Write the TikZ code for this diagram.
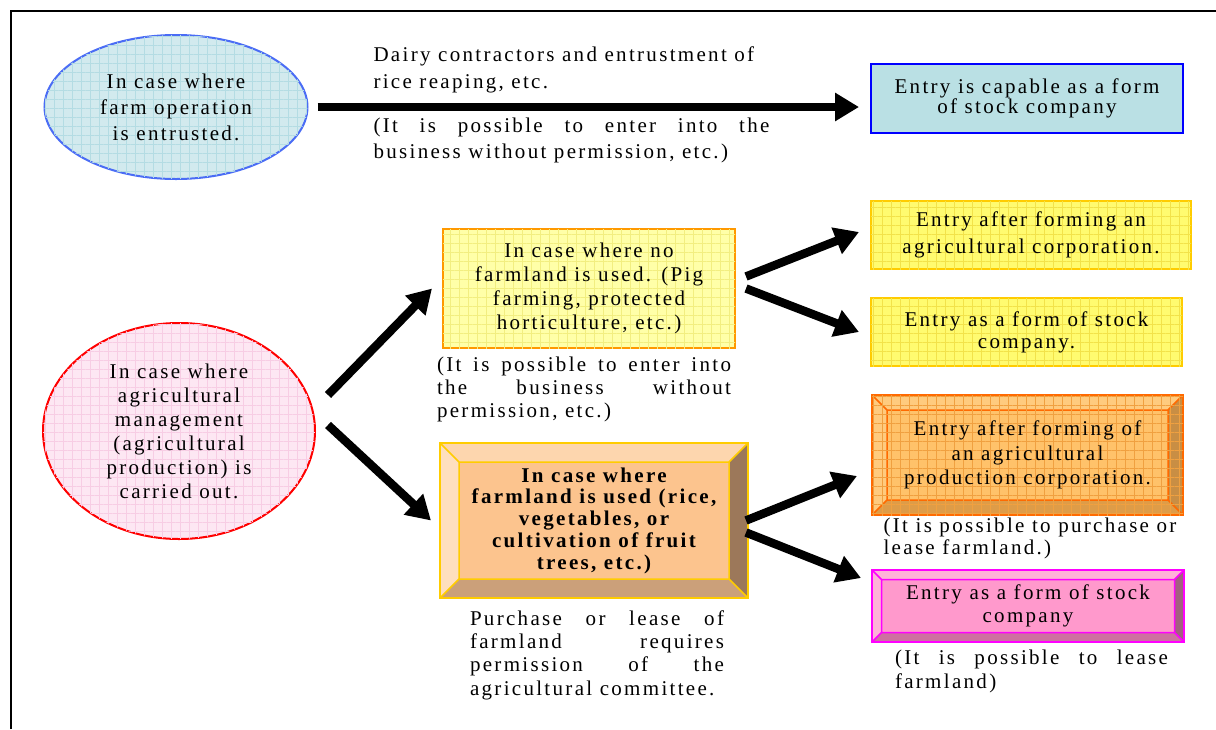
\documentclass[tikz,border=0pt]{standalone}
\usepackage{fontspec}
\setmainfont[LetterSpace=11]{Liberation Serif}
\usepackage{tikz}
\usetikzlibrary{shapes.geometric}
\usetikzlibrary{positioning}
\usetikzlibrary{calc}
\usetikzlibrary{arrows.meta}
\usetikzlibrary{patterns.meta}
\definecolor{skyfill}{HTML}{D2EAEE}
\definecolor{skygrid}{HTML}{B4DCE3}
\definecolor{skyline}{HTML}{4A6CF5}
\definecolor{tealfill}{HTML}{BAE0E4}
\definecolor{pinkfill}{HTML}{FDE7F3}
\definecolor{pinkgrid}{HTML}{F7CDE4}
\definecolor{lemonfill}{HTML}{FFFFA8}
\definecolor{lemongrid}{HTML}{F2EE80}
\definecolor{lemonline}{HTML}{FF9900}
\definecolor{goldfill}{HTML}{FFFB70}
\definecolor{goldgrid}{HTML}{F2E24A}
\definecolor{goldline}{HTML}{FFCC00}
\definecolor{peach}{HTML}{FCC48E}
\definecolor{peachtop}{HTML}{FDD6AE}
\definecolor{peachleft}{HTML}{FEDFBE}
\definecolor{peachright}{HTML}{9C785A}
\definecolor{peachbottom}{HTML}{CBA07A}
\definecolor{amber}{HTML}{FFC26A}
\definecolor{ambertop}{HTML}{FFCB7E}
\definecolor{amberright}{HTML}{C98E44}
\definecolor{amberbottom}{HTML}{DE9C48}
\definecolor{ambergrid}{HTML}{F0A040}
\definecolor{amberline}{HTML}{FF6A00}
\definecolor{rose}{HTML}{FF99CC}
\definecolor{rosetop}{HTML}{FFB2D8}
\definecolor{roseright}{HTML}{A2627F}
\definecolor{rosebottom}{HTML}{CD71A0}
\definecolor{roseline}{HTML}{FF00FF}
\newcommand{\fsz}[1]{\fontsize{21}{#1}\selectfont}
\tolerance=10000
\hbadness=10000
\tikzset{every picture/.style={line width=1pt},
oval/.style={ellipse,draw,line width=2pt,align=center,inner sep=0pt},
box/.style={rectangle,draw,line width=2pt,align=center,inner sep=0pt},
note/.style={align=justify,inner sep=0pt},
gridded/.style={postaction={pattern={Hatch[angle=0,distance=9pt,line width=.6pt]},pattern color=#1}},
bevel/.style n args={7}{fill=#2,draw=#7,path picture={
\path (path picture bounding box.north west) coordinate (o1) (path picture bounding box.north east) coordinate (o2)
(path picture bounding box.south east) coordinate (o3) (path picture bounding box.south west) coordinate (o4);
\path ([xshift=#1,yshift=-#1]o1) coordinate (i1) ([xshift=-#1,yshift=-#1]o2) coordinate (i2)
([xshift=-#1,yshift=#1]o3) coordinate (i3) ([xshift=#1,yshift=#1]o4) coordinate (i4);
\fill[#3] (o1) -- (o2) -- (i2) -- (i1) -- cycle;
\fill[#4] (o1) -- (i1) -- (i4) -- (o4) -- cycle;
\fill[#5] (o2) -- (o3) -- (i3) -- (i2) -- cycle;
\fill[#6] (o4) -- (o3) -- (i3) -- (i4) -- cycle;
\draw[#7,line width=1.5pt] (i1) rectangle (i3) (o1) -- (i1) (o2) -- (i2) (o3) -- (i3) (o4) -- (i4);
}},
bigarrow/.style={line width=8.5pt,-{Triangle[length=24pt,width=27pt]}}}

\begin{document}
\begin{tikzpicture}[x=1pt, y=-1pt, every node/.style={font=\fsz{24}}]
\useasboundingbox (0,0) rectangle (1216,729);
\draw[line width=2pt] (11,729) -- (11,11) -- (1216,11);
\node (entrust) at (176,107) [oval, draw=skyline, fill=skyfill, gridded=skygrid, minimum width=263pt, minimum height=144pt, font=\fsz{26}] {In case where\\farm operation\\is entrusted.};
\node (dairy) at (373,70) [anchor=west, align=left, inner sep=0pt, font=\fsz{27}] {Dairy contractors and entrustment of\\rice reaping, etc.};
\node (dairynote) at (373,140) [anchor=west, note, text width=396pt, font=\fsz{26}] {(It is possible to enter into the\linebreak business without permission, etc.)};
\node (capable) at (1027,98.5) [box, draw=blue, fill=tealfill, minimum width=312pt, minimum height=69pt, font=\fsz{20}] {Entry is capable as a form\\of stock company};
\draw[bigarrow, shorten >=11pt] ([xshift=9pt]entrust.east) -- (entrust.east -| capable.west);
\node (manage) at (179,431) [oval, draw=red, fill=pinkfill, gridded=pinkgrid, minimum width=272pt, minimum height=216pt] {In case where\\agricultural\\management\\(agricultural\\production) is\\carried out.};
\node (nouse) at (589,288.5) [box, draw=lemonline, fill=lemonfill, gridded=lemongrid, minimum width=292pt, minimum height=119pt] {In case where no\\farmland is used. (Pig\\farming, protected\\horticulture, etc.)};
\node (nousenote) [below of=nouse, node distance=100.5pt, xshift=-5pt, note, text width=294pt, font=\fsz{23}] {(It is possible to enter into\linebreak the business without\linebreak permission, etc.)};
\node (use) at (594,520.5) [box, bevel={19pt}{peach}{peachtop}{peachleft}{peachright}{peachbottom}{goldline}, minimum width=308pt, minimum height=155pt, font=\fsz{21.75}\bfseries] {In case where\\farmland is used (rice,\\vegetables, or\\cultivation of fruit\\trees, etc.)};
\node (usenote) [below of=use, node distance=134.5pt, xshift=3pt, note, text width=254pt, font=\fsz{23.3}] {Purchase or lease of\linebreak farmland requires\linebreak permission of the\linebreak agricultural committee.};
\draw[bigarrow] ([xshift=149pt,yshift=36pt]manage.center) -- ([xshift=-10pt]nouse.west);
\draw[bigarrow] ([xshift=149pt,yshift=6pt]manage.center) -- ([xshift=-8pt]use.west);
\node (agcorp) at (1031,235) [box, draw=goldline, fill=goldfill, gridded=goldgrid, minimum width=320pt, minimum height=68pt, font=\fsz{27}] {Entry after forming an\\agricultural corporation.};
\node (stockco) at (1026.5,332) [box, draw=goldline, fill=goldfill, gridded=goldgrid, minimum width=311pt, minimum height=68pt, font=\fsz{22}] {Entry as a form of stock\\company.};
\node (prodcorp) at (1027.5,455) [box, bevel={15pt}{amber}{ambertop}{ambertop}{amberright}{amberbottom}{amberline}, gridded=ambergrid, minimum width=311pt, minimum height=120pt, font=\fsz{24.5}] {Entry after forming of\\an agricultural\\production corporation.};
\node (prodnote) [below of=prodcorp, node distance=83pt, xshift=2.5pt, align=left, inner sep=0pt, font=\fsz{22}] {(It is possible to purchase or\\lease farmland.)};
\node (stocklease) at (1028,606) [box, bevel={9.5pt}{rose}{rosetop}{rosetop}{roseright}{rosebottom}{roseline}, minimum width=312pt, minimum height=72pt, font=\fsz{23}] {Entry as a form of stock\\company};
\node (leasenote) [below of=stocklease, node distance=65pt, xshift=3.5pt, note, text width=273pt, font=\fsz{24}] {(It is possible to lease\linebreak farmland)};
\draw[bigarrow] ([xshift=10pt,yshift=12pt]nouse.east) -- ([xshift=-11pt,yshift=3pt]agcorp.west);
\draw[bigarrow] ([xshift=10pt]nouse.east) -- ([xshift=-11pt]stockco.west);
\draw[bigarrow] ([xshift=-3pt]use.east) -- ([xshift=-14pt,yshift=-21pt]prodcorp.west);
\draw[bigarrow] ([xshift=-3pt,yshift=-12pt]use.east) -- ([xshift=-10pt,yshift=28pt]stocklease.west);
\end{tikzpicture}
\end{document}
